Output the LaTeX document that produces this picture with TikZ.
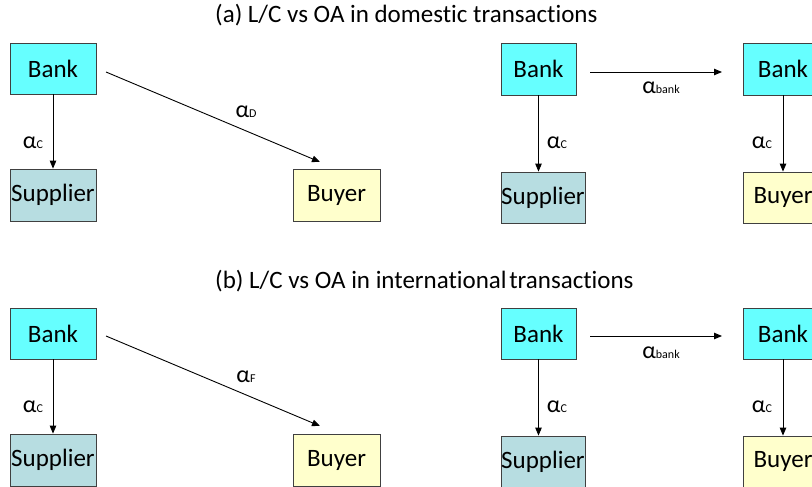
\documentclass[tikz,border=0pt]{standalone}
\usepackage{fontspec}
\setmainfont{Carlito}[Ligatures={NoCommon,NoDiscretionary}]
\usetikzlibrary{arrows.meta}
\definecolor{bankc}{RGB}{102,255,255}
\definecolor{suppc}{RGB}{183,221,225}
\definecolor{buyc}{RGB}{255,255,204}
\definecolor{edgec}{RGB}{64,64,64}
\newcommand{\al}[1]{{\fontsize{24}{24}\selectfont α}{\fontsize{12}{12}\selectfont #1}}
\begin{document}
\begin{tikzpicture}[x=1pt,y=-1pt,
  box/.style={draw=edgec,line width=0.8pt,inner sep=0pt,font=\fontsize{25}{25}\selectfont},
  bankbox/.style={box,fill=bankc},
  suppbox/.style={box,fill=suppc},
  buybox/.style={box,fill=buyc},
  conn/.style={line width=0.9pt,-{Triangle[length=8pt,width=6.5pt]}},
  lab/.style={inner sep=0pt},
  title/.style={inner sep=0pt,font=\fontsize{25}{25}\selectfont}]
\useasboundingbox (0,0) rectangle (812,487);
\clip (0,0) rectangle (812,487);
% titles
\node[title,anchor=base west] (ta) at (215,23) {(a) L/C vs OA in domestic transactions};
\node[title,anchor=base west] (tb) at (215,288) {(b) L/C vs OA in international\hspace{-3pt} transactions};
% ---- (a) left
\node[bankbox,minimum width=86,minimum height=51] (bA) at (53,68.5) {Bank};
\node[suppbox,minimum width=86,minimum height=52] (sA) at (53,195) {Supplier};
\node[buybox,minimum width=87,minimum height=52] (yA) at (336.5,195) {Buyer};
\draw[conn] (bA.south) -- (sA.north);
\coordinate (dAs) at (106,72);
\coordinate (dAe) at (320,162);
\draw[conn] (dAs) -- (dAe);
\node[lab] (lcA) at (33,143) {\al{C}};
\node[lab] (ldA) at (246,112) {\al{D}};
% ---- (a) right
\node[bankbox,minimum width=75,minimum height=52] (bA2) at (538.5,69) {Bank};
\node[suppbox,minimum width=84,minimum height=51] (sA2) at (543,197.5) {Supplier};
\node[bankbox,minimum width=80,minimum height=52] (bA3) at (783,69) {Bank};
\node[buybox,minimum width=80,minimum height=51] (yA3) at (783,197.5) {Buyer};
\draw[conn] (bA2.south) -- (bA2.south |- sA2.north);
\draw[conn] (bA3.south) -- (yA3.north);
\coordinate (hAs) at (590,72);
\coordinate (hAe) at (722,72);
\draw[conn] (hAs) -- (hAe);
\node[lab] (lbA) at (661,88) {\al{bank}};
\node[lab] (lcA2) at (557,143) {\al{C}};
\node[lab] (lcA3) at (762,143) {\al{C}};
% ---- (b) left
\node[bankbox,minimum width=86,minimum height=51] (bB) at (53,333.5) {Bank};
\node[suppbox,minimum width=86,minimum height=52] (sB) at (53,460) {Supplier};
\node[buybox,minimum width=87,minimum height=52] (yB) at (336.5,460) {Buyer};
\draw[conn] (bB.south) -- (sB.north);
\coordinate (dBs) at (106,336);
\coordinate (dBe) at (320,426);
\draw[conn] (dBs) -- (dBe);
\node[lab] (lcB) at (33,407) {\al{C}};
\node[lab] (lfB) at (246,377) {\al{F}};
% ---- (b) right
\node[bankbox,minimum width=75,minimum height=51] (bB2) at (538.5,333.5) {Bank};
\node[suppbox,minimum width=84,minimum height=51] (sB2) at (543,461.5) {Supplier};
\node[bankbox,minimum width=80,minimum height=51] (bB3) at (783,333.5) {Bank};
\node[buybox,minimum width=80,minimum height=51] (yB3) at (783,461.5) {Buyer};
\draw[conn] (bB2.south) -- (bB2.south |- sB2.north);
\draw[conn] (bB3.south) -- (yB3.north);
\coordinate (hBs) at (590,336);
\coordinate (hBe) at (722,336);
\draw[conn] (hBs) -- (hBe);
\node[lab] (lbB) at (661,353) {\al{bank}};
\node[lab] (lcB2) at (557,407) {\al{C}};
\node[lab] (lcB3) at (762,407) {\al{C}};
\end{tikzpicture}
\end{document}
